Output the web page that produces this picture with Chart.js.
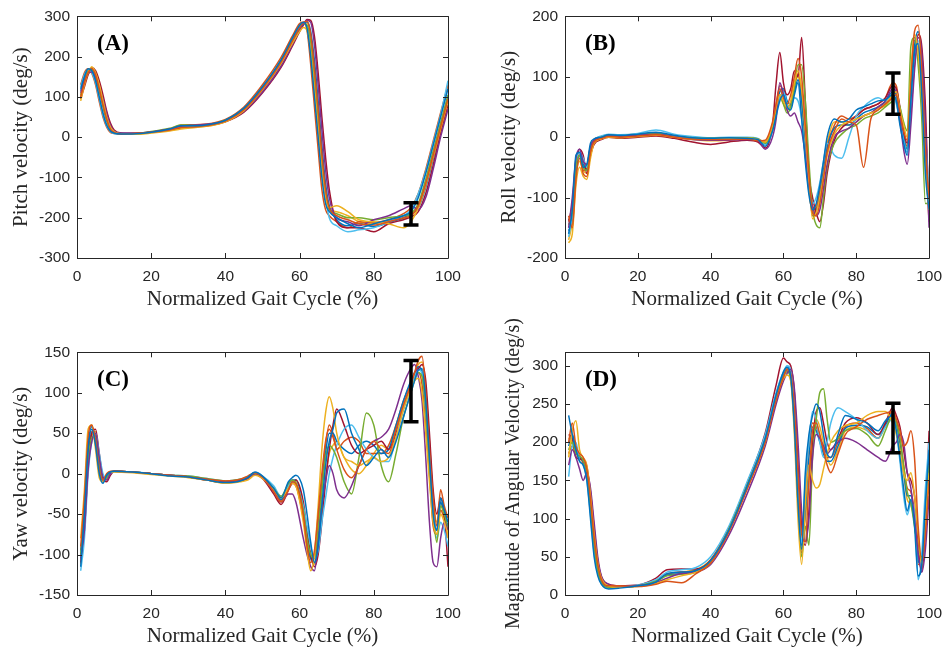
<!DOCTYPE html>
<html>
<head>
<meta charset="utf-8">
<script src="https://cdn.jsdelivr.net/npm/chart.js@4.4.1/dist/chart.umd.min.js"></script>
<style>
  html, body { margin: 0; padding: 0; background: #fff; overflow: hidden; }
  body { width: 951px; height: 648px; position: relative; }
  canvas { position: absolute; }
</style>
</head>
<body>
<canvas id="chartA"></canvas>
<canvas id="chartB"></canvas>
<canvas id="chartC"></canvas>
<canvas id="chartD"></canvas>
<script>
// Normalized gait cycle sample points (%) for each panel
const xPitch = [1,2,3,4,5,6,7,8,9,10,12,15,20,25,28,32,36,40,45,50,55,58,60,61,62,63,64,65,66,67,68,70,73,76,80,84,88,90,92,94,96,98,100];
const xRoll = [1,2,3,4,5,6,7,8,10,12,15,20,25,30,35,40,45,50,53,55,57,58,59,60,61,62,63,64,65,66,67,68,69,70,71,72,74,76,78,80,82,84,86,88,90,91,92,93,94,95,96,97,98,99,100];
const xYaw = [1,2,3,4,5,6,7,8,9,10,15,20,25,30,35,40,44,46,48,50,53,55,57,58,59,61,62,63,64,65,66,67,68,69,70,72,74,76,78,80,82,84,86,88,90,91,92,93,94,95,96,97,98,99,100];
const xMag = [1,2,3,4,5,6,7,8,9,10,12,15,20,25,28,32,36,40,45,50,55,58,60,61,62,63,64,65,66,67,68,69,70,71,72,73,75,77,80,83,86,88,90,91,92,93,94,95,96,97,98,99,100];

// Pitch velocity (deg/s), one row per gait cycle
const pitchTrials = [
  [120,150,170,165,140,100,60,30,15,10, 8,8,12,20,28,28,32,42,72,125,192,245, 278,285,270,200,100,0,-100,-165,-185, -200,-215,-225,-215,-205,-195, -185,-150,-90,-20,50,120],
  [100,135,160,170,155,120,80,45,20,12, 7,9,12,18,24,26,30,40,68,120,186,238, 272,284,288,255,170,70,-40,-130,-175, -195,-205,-215,-218,-210,-200, -195,-170,-115,-45,25,95],
  [90,130,160,175,160,130,90,50,25,14, 8,7,10,15,20,24,28,38,66,118,183,232, 262,272,265,210,120,20,-80,-150,-175, -170,-185,-205,-210,-215,-225, -210,-175,-120,-50,20,90],
  [110,140,158,162,150,125,95,60,30,15, 10,10,13,20,27,30,33,40,64,112,176,228, 265,280,290,285,230,130,20,-80,-150, -200,-210,-220,-205,-195,-178, -170,-180,-150,-80,0,70],
  [105,140,165,168,150,115,75,40,18,11, 9,9,14,22,30,30,32,42,70,122,190,240, 270,280,278,235,140,40,-60,-140,-180, -190,-200,-200,-205,-200,-195, -190,-165,-105,-35,35,105],
  [125,155,168,160,135,95,55,28,14,9, 7,8,12,19,26,27,31,41,71,124,191,242, 275,282,275,225,130,30,-70,-150,-200, -220,-235,-230,-225,-210,-195, -180,-140,-85,-15,55,140],
  [95,125,155,172,165,140,105,65,35,18, 10,9,12,18,24,27,30,38,62,110,173,225, 262,278,292,290,250,160,50,-50,-130, -210,-225,-225,-235,-215,-205, -198,-185,-140,-70,10,80],
  [115,145,165,168,148,118,80,45,22,12, 9,8,12,19,26,29,32,41,68,118,185,236, 270,283,286,262,190,90,-20,-115,-170, -205,-220,-215,-222,-212,-200, -190,-175,-125,-55,20,100],
  [130,160,170,158,130,88,50,25,12,9, 7,8,12,20,30,31,34,44,75,130,198,250, 282,286,265,180,75,-30,-130,-180,-195, -210,-225,-210,-212,-205,-190, -175,-140,-80,-10,60,130],
  [100,138,163,170,152,122,85,48,22,13, 8,8,11,17,23,25,29,39,66,117,182,236, 268,280,282,248,160,55,-50,-135,-178, -185,-195,-210,-215,-208,-202, -196,-172,-112,-40,30,100]
];

// Roll velocity (deg/s)
const rollTrials = [
  [-160,-120,-30,-25,-50,-45,-10,-3, 0,4,3,5,8,3,-1,-2,-1,-2,-4,-15, 10,35,60,70,50,45,70,90,30,-40,-95,-120,-110,-80,-40,0, 30,25,30,45,50,55,60,62, 70,60,20,-10,-30,60,140,155,70,-60,-120],
  [-130,-150,-70,-35,-60,-65,-25,-8, -2,1,0,2,4,0,-3,-4,-4,-3,-6,-5, 25,55,80,65,55,70,100,130,100,20,-60,-125,-130,-110,-70,-25, 10,30,25,20,-50,30,45,55, 65,70,40,10,-5,90,175,185,110,-20,-100],
  [-175,-160,-80,-50,-65,-70,-35,-10, -3,0,-1,1,3,0,-3,-3,-3,-2,-4,-8, 20,50,70,60,50,60,90,110,80,10,-70,-135,-125,-100,-65,-30, 5,20,25,30,35,40,45,55, 70,75,45,20,0,110,170,140,60,-50,-120],
  [-150,-100,-35,-20,-40,-45,-15,-5, -1,2,2,3,5,1,-4,-5,-5,-4,-6,-20, 0,30,90,70,45,35,40,25,10,-30,-85,-115,-130,-120,-85,-45, 0,10,15,25,35,40,50,60, 80,75,30,-20,-45,20,110,165,140,20,-150],
  [-145,-125,-50,-30,-50,-55,-20,-6, 0,3,2,4,6,2,-1,-2,-1,-1,-3,-10, 15,45,70,55,40,50,80,120,120,60,-40,-120,-145,-150,-100,-50, -10,5,15,20,30,35,40,50, 60,65,50,25,10,150,165,120,30,-110,-110],
  [-165,-130,-45,-25,-35,-50,-20,-5, 2,5,4,6,12,5,1,-1,0,0,-2,-12, 10,40,65,75,55,50,65,60,30,-30,-90,-110,-100,-75,-40,-10, -30,-35,0,35,50,60,65,60, 70,55,25,-5,-25,50,130,160,100,0,-90],
  [-135,-145,-55,-20,-30,-60,-30,-12, -4,0,-2,0,2,-2,-8,-12,-8,-5,-8,-18, 20,90,140,90,70,80,110,100,165,60,-60,-100,-125,-140,-110,-60, -5,15,25,35,45,50,55,65, 85,80,50,10,-10,40,120,170,150,50,-130],
  [-155,-135,-60,-30,-45,-55,-20,-6, 0,2,1,3,6,1,-2,-3,-2,-2,-5,-12, 15,45,75,80,60,55,75,95,60,0,-70,-115,-120,-100,-60,-20, 15,20,20,30,40,45,50,58, 75,70,35,0,-20,70,150,175,120,-10,-110],
  [-140,-110,-40,-30,-55,-50,-15,-4, 1,4,3,5,7,2,-2,-3,-2,-1,-3,-8, 20,55,85,75,50,55,85,105,70,-10,-80,-130,-120,-90,-50,-15, 20,35,30,35,45,50,55,65, 90,85,45,5,-15,80,160,150,80,-30,-140],
  [-170,-140,-65,-40,-55,-60,-25,-8, -2,1,0,2,4,0,-4,-6,-5,-3,-5,-10, 18,50,65,55,45,55,85,100,55,-20,-85,-125,-115,-85,-45,-10, 25,25,20,25,35,40,48,52, 65,62,30,0,-20,45,125,150,90,-40,-100]
];

// Yaw velocity (deg/s)
const yawTrials = [
  [-115,-50,30,55,35,0,-12,-2,2,3, 2,0,-3,-4,-8,-11,-9,-5,2,-3, -18,-30,-10,-5,-2,-20,-50,-85,-110,-90, -40,10,40,55,75,80,50,30,10,20, 30,20,40,70,100,115,128,130,90,20, -50,-70,-30,-45,-60],
  [-90,-30,45,60,40,5,-8,0,3,3, 2,0,-2,-4,-7,-9,-7,-3,1,-4, -22,-35,-20,-10,-12,-50,-90,-110,-95,-50, 0,40,55,45,30,5,-5,10,30,40, 30,25,55,85,110,125,140,145,100,30, -30,-65,-20,-40,-55],
  [-80,-20,55,60,30,-5,-10,0,2,2, 1,-1,-3,-5,-8,-12,-10,-8,-2,-6, -20,-30,-18,-12,-15,-60,-95,-120,-100,-40, 30,75,95,80,50,20,15,10,15,20, 15,20,45,80,105,115,118,100,50,-10, -60,-75,-50,-60,-75],
  [-105,-70,5,40,50,20,-5,-8,0,3, 2,0,-2,-4,-7,-10,-8,-6,-1,-5, -22,-35,-25,-25,-35,-80,-100,-115,-120,-85, -40,-10,10,0,-20,-30,-15,10,30,40, 45,55,80,110,130,135,120,90,20,-60, -110,-115,-80,-60,-70],
  [-100,-60,15,45,45,15,-8,-5,2,3, 2,0,-2,-3,-6,-9,-7,-4,0,-4, -18,-28,-12,-8,-12,-45,-80,-100,-105,-70, -20,20,35,30,20,-10,-25,20,75,60, 10,-10,25,70,100,115,125,120,80,10, -50,-85,-40,-50,-70],
  [-120,-80,0,40,50,25,0,-5,0,2, 2,0,-2,-3,-6,-9,-7,-4,1,-3, -15,-28,-15,-10,-12,-40,-65,-90,-105,-95, -60,-30,0,20,35,55,60,45,30,20, 15,15,45,80,105,120,128,125,80,20, -40,-80,-60,-70,-90],
  [-110,-70,10,50,55,25,-5,-10,-2,3, 2,0,-2,-4,-8,-11,-9,-6,-1,-6, -25,-38,-20,-12,-8,-35,-70,-100,-115,-100, -60,-10,30,60,80,60,35,25,30,35, 40,30,50,80,110,125,130,135,115,50, -20,-50,-30,-50,-115],
  [-100,-45,35,58,42,8,-10,-3,2,3, 2,0,-2,-4,-7,-10,-8,-4,1,-4, -20,-32,-15,-8,-8,-40,-75,-105,-110,-75, -20,25,50,50,40,30,25,35,40,35, 25,30,60,90,115,125,132,125,80,15, -45,-70,-35,-50,-65],
  [-95,-55,20,52,48,12,-8,-4,1,3, 2,0,-2,-4,-7,-10,-8,-5,0,-5, -20,-33,-18,-12,-15,-55,-85,-105,-100,-60, -10,35,60,50,30,40,45,40,25,25, 25,35,60,90,112,122,125,110,60,0, -65,-75,-45,-55,-65],
  [-112,-65,8,45,52,22,-4,-7,0,3, 2,0,-2,-4,-8,-11,-9,-6,0,-5, -20,-34,-18,-10,-10,-45,-78,-102,-112,-92, -50,-5,25,35,40,20,5,0,10,25, 35,30,55,85,108,122,135,138,105,40, -30,-60,-35,-55,-80]
];

// Magnitude of angular velocity (deg/s)
const magTrials = [
  [235,210,190,175,170,150,100,50,25,14, 8,9,12,17,28,30,32,45,85,142, 205,262,292,298,285,220,120,60,160,210, 235,250,240,210,185,180,210,235,230,225, 215,228,235,215,180,140,110,125,90,25, 40,120,190],
  [200,225,195,185,180,165,125,75,40,20, 12,12,11,14,18,16,28,42,82,138, 200,255,285,295,290,245,160,80,70,150, 215,225,210,190,170,160,185,210,220,230, 235,238,240,230,215,195,200,215,180,90, 45,80,150],
  [180,215,228,190,180,170,130,80,42,22, 12,10,11,15,20,25,30,42,84,140, 200,258,283,288,280,210,100,40,120,170, 150,140,145,165,185,200,215,222,225,235, 240,240,225,210,190,160,150,160,130,80, 40,100,160],
  [170,190,180,165,150,160,140,95,50,25, 14,11,12,16,22,28,30,40,78,132, 195,250,280,290,295,270,200,110,70,100, 180,210,205,195,185,190,200,205,200,190, 180,175,195,200,210,200,160,140,100,55, 30,60,130],
  [190,200,185,182,176,160,115,65,32,16, 10,10,12,18,25,27,30,44,86,143, 204,258,286,292,282,225,120,50,90,65, 180,230,265,270,230,200,205,215,218,210, 195,215,235,225,205,170,135,120,90,60, 50,100,170],
  [155,195,200,175,170,150,105,55,28,15, 9,10,13,20,30,33,36,50,90,148, 210,265,292,300,295,250,140,70,150,200, 240,230,200,180,200,225,245,240,230,215, 205,220,230,215,175,130,105,120,110,20, 55,140,200],
  [210,205,180,178,178,168,135,88,45,24, 14,12,13,22,33,34,34,45,85,145, 212,275,310,305,300,265,170,90,65,110, 195,240,245,225,200,190,205,225,232,225, 210,225,245,235,220,190,160,150,130,70, 30,90,215],
  [195,210,190,180,175,162,120,70,36,18, 10,10,12,18,26,28,31,44,84,140, 203,258,287,295,288,235,140,65,110,180, 220,215,200,185,175,175,195,218,222,220, 210,222,238,225,200,165,130,130,100,45, 40,110,180],
  [185,195,188,182,172,158,112,62,30,16, 9,10,12,18,27,30,32,46,88,146, 208,262,290,296,286,228,125,55,140,195, 225,220,205,190,180,180,200,220,225,218, 205,225,240,228,205,170,140,135,105,40, 45,115,185],
  [205,200,182,178,174,160,118,68,34,17, 10,11,12,19,27,30,33,46,86,144, 206,262,289,294,284,230,130,60,100,150, 205,230,220,200,180,170,190,215,220,215, 205,220,232,222,198,160,125,118,95,50, 35,95,175]
];

// Range bars drawn at 90% of the cycle: [low, high]
const errX = 90;
const pitchErr = [-218, -163];
const rollErr = [38, 106];
const yawErr = [64, 140];
const magErr = [186, 251];

const colors = ['#0072BD', '#D95319', '#EDB120', '#7E2F8E', '#77AC30', '#4DBEEE', '#A2142F'];
const axisColor = '#262626';

Chart.defaults.font.family = '"Liberation Sans", Arial, sans-serif';
Chart.defaults.color = axisColor;

// box, inward ticks, range bar and panel tag
const framePlugin = {
  id: 'frame',
  afterDatasetsDraw(chart, args, opts) {
    const { ctx, chartArea: a, scales: { x, y } } = chart;
    ctx.save();

    // range bar
    const bx = Math.round(x.getPixelForValue(errX));
    const y1 = y.getPixelForValue(opts.err[0]);
    const y2 = y.getPixelForValue(opts.err[1]);
    ctx.strokeStyle = '#000';
    ctx.lineWidth = 3.5;
    ctx.beginPath();
    ctx.moveTo(bx, y1); ctx.lineTo(bx, y2);
    ctx.moveTo(bx - 7.5, y1); ctx.lineTo(bx + 7.5, y1);
    ctx.moveTo(bx - 7.5, y2); ctx.lineTo(bx + 7.5, y2);
    ctx.stroke();

    // axes box with inward ticks
    ctx.strokeStyle = axisColor;
    ctx.lineWidth = 1;
    ctx.beginPath();
    ctx.rect(Math.round(a.left) + 0.5, Math.round(a.top) + 0.5,
             Math.round(a.right) - Math.round(a.left), Math.round(a.bottom) - Math.round(a.top));
    const tl = 5;
    x.ticks.forEach(t => {
      const px = Math.round(x.getPixelForValue(t.value)) + 0.5;
      ctx.moveTo(px, a.bottom); ctx.lineTo(px, a.bottom - tl);
      ctx.moveTo(px, a.top); ctx.lineTo(px, a.top + tl);
    });
    y.ticks.forEach(t => {
      const py = Math.round(y.getPixelForValue(t.value)) + 0.5;
      ctx.moveTo(a.left, py); ctx.lineTo(a.left + tl, py);
      ctx.moveTo(a.right, py); ctx.lineTo(a.right - tl, py);
    });
    ctx.stroke();

    // panel tag
    ctx.fillStyle = '#000';
    ctx.font = 'bold 23px "Liberation Serif", "Times New Roman", serif';
    ctx.textAlign = 'left';
    ctx.textBaseline = 'alphabetic';
    ctx.fillText(opts.tag, a.left + 20, a.top + 34);
    ctx.restore();
  }
};

function makePanel(id, area, xs, trials, yMin, yMax, yStep, yTitle, tag, err, titlePad, titleSize, padTop) {
  // canvas rect placed so the plot area lands where it should
  const rect = { x: area.l - 77, y: area.t - padTop, w: Math.min(area.r + 27, 951) - (area.l - 77), h: area.b + 66 - (area.t - padTop) };
  const el = document.getElementById(id);
  el.style.left = rect.x + 'px';
  el.style.top = rect.y + 'px';
  el.width = rect.w;
  el.height = rect.h;
  el.style.width = rect.w + 'px';
  el.style.height = rect.h + 'px';

  const datasets = trials.map((row, i) => ({
    data: xs.map((x, j) => ({ x: x, y: row[j] })),
    borderColor: colors[i % colors.length],
    borderWidth: 1.5,
    pointRadius: 0,
    fill: false,
    cubicInterpolationMode: 'monotone'
  }));

  const serif = '"Liberation Serif", "Times New Roman", serif';
  const tickFont = { size: 15.5 };

  new Chart(el, {
    type: 'line',
    data: { datasets },
    options: {
      responsive: false,
      animation: false,
      events: [],
      layout: { padding: { left: 0, top: padTop, right: rect.x + rect.w - area.r, bottom: 0 } },
      plugins: {
        legend: { display: false },
        tooltip: { enabled: false },
        frame: { tag: tag, err: err }
      },
      scales: {
        x: {
          type: 'linear',
          min: 0, max: 100,
          grid: { display: false, drawTicks: false },
          border: { display: false },
          ticks: { stepSize: 20, font: tickFont, color: axisColor, padding: 9, maxRotation: 0 },
          title: { display: true, text: 'Normalized Gait Cycle (%)', font: { family: serif, size: 21, lineHeight: 1 }, color: axisColor, padding: { top: 0, bottom: 14.5 } },
          afterFit(scale) { scale.height = 66; }
        },
        y: {
          type: 'linear',
          min: yMin, max: yMax,
          grid: { display: false, drawTicks: false },
          border: { display: false },
          ticks: { stepSize: yStep, font: tickFont, color: axisColor, padding: 7, includeBounds: false },
          afterBuildTicks(scale) { scale.ticks = scale.ticks.filter(t => t.value % yStep === 0); },
          title: { display: true, text: yTitle, font: { family: serif, size: titleSize, lineHeight: 1 }, color: axisColor, padding: { top: titlePad, bottom: 0 } },
          afterFit(scale) { scale.width = 77; }
        }
      }
    },
    plugins: [framePlugin]
  });
}

makePanel('chartA', { l: 77, t: 16, r: 448, b: 258 }, xPitch, pitchTrials, -300, 300, 100, 'Pitch velocity (deg/s)', '(A)', pitchErr, 10.5, 21, 16);
makePanel('chartB', { l: 565, t: 16, r: 935, b: 258 }, xRoll, rollTrials, -200, 200, 100, 'Roll velocity (deg/s)', '(B)', rollErr, 10.5, 21, 16);
makePanel('chartC', { l: 77, t: 352, r: 448, b: 595 }, xYaw, yawTrials, -150, 150, 50, 'Yaw velocity (deg/s)', '(C)', yawErr, 10.5, 21, 16);
makePanel('chartD', { l: 565, t: 352, r: 935, b: 595 }, xMag, magTrials, 0, 318, 50, 'Magnitude of Angular Velocity (deg/s)', '(D)', magErr, 15.5, 20, 48);
</script>
</body>
</html>
